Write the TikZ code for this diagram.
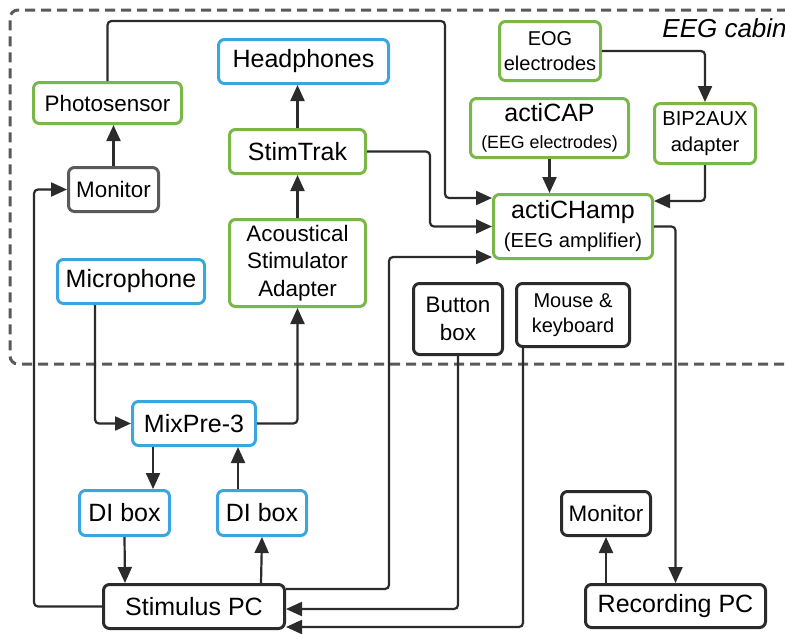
\documentclass[tikz,border=0pt]{standalone}
\usepackage{fontspec}
\setmainfont{Liberation Sans}
\usetikzlibrary{arrows.meta}
\definecolor{devgreen}{HTML}{7AB648}
\definecolor{devblue}{HTML}{3AA6DD}
\definecolor{devblack}{HTML}{2B2B2B}
\definecolor{devgray}{HTML}{5A5A5A}
\newcommand{\fbig}{\fontsize{12.5}{14}\selectfont}
\newcommand{\fmid}{\fontsize{11.2}{13.7}\selectfont}
\newcommand{\fsmall}{\fontsize{10}{12.2}\selectfont}
\tikzset{
	dev/.style={draw, rounded corners=3pt, line width=1.5pt, align=center, inner sep=0pt, font=\fbig},
	greendev/.style={dev, draw=devgreen},
	bluedev/.style={dev, draw=devblue},
	blackdev/.style={dev, draw=devblack},
	link/.style={draw=devblack, line width=1.1pt, rounded corners=2pt, -{Triangle[length=8pt,width=7pt]}},
	cabin/.style={draw=devgray, line width=1.5pt, dash pattern=on 5pt off 3pt, rounded corners=4pt}
}
\begin{document}
\begin{tikzpicture}[x=0.5pt,y=-0.5pt]
	\useasboundingbox (0,0) rectangle (785,633);
	\draw[cabin] (800,364) -| (10,10) -- (800,10);
	\node[anchor=west, inner sep=0pt, font=\itshape\fontsize{13}{15}\selectfont] (cabinlabel) at (662,28) {EEG cabin};
	
	\node[greendev, minimum width=74pt, minimum height=20.5pt, font=\fmid] (photo) at (107.5,103) {Photosensor};
	\node[dev, draw=devgray, minimum width=45pt, minimum height=22pt, font=\fmid] (monleft) at (113.5,189.5) {Monitor};
	\node[bluedev, minimum width=85pt, minimum height=22pt] (head) at (303.5,61.5) {Headphones};
	\node[greendev, minimum width=68pt, minimum height=22pt] (stim) at (297.5,151.5) {StimTrak};
	\node[greendev, minimum width=68pt, minimum height=43.5pt, font=\fmid] (asa) at (297.5,263) {Acoustical\\Stimulator\\Adapter};
	\node[bluedev, minimum width=73.5pt, minimum height=22pt] (mic) at (131,281.5) {Microphone};
	\node[greendev, minimum width=50.5pt, minimum height=29.5pt, font=\fsmall] (eog) at (550,51) {EOG\\electrodes};
	\node[greendev, minimum width=79pt, minimum height=29.5pt, font=\fontsize{8.9}{13.3}\selectfont] (cap) at (549.5,128) {{\fbig actiCAP}\\(EEG electrodes)};
	\node[greendev, minimum width=50.5pt, minimum height=30pt, font=\fontsize{10.1}{12.7}\selectfont] (bip) at (705,133.5) {BIP2AUX\\adapter};
	\node[greendev, minimum width=79.5pt, minimum height=32pt, font=\fontsize{10.1}{14.5}\selectfont] (amp) at (573,226.5) {{\fbig actiCHamp}\\(EEG amplifier)};
	\node[blackdev, minimum width=44.5pt, minimum height=35.5pt, font=\fmid] (button) at (458,319) {Button\\box};
	\node[blackdev, minimum width=56.5pt, minimum height=31.5pt, font=\fsmall] (mouse) at (573,315) {Mouse \&\\keyboard};
	\node[bluedev, minimum width=61.5pt, minimum height=22pt] (mix) at (194,423.5) {MixPre-3};
	\node[bluedev, minimum width=45pt, minimum height=22.5pt] (dileft) at (124.5,513) {DI box};
	\node[bluedev, minimum width=44.5pt, minimum height=22.5pt] (diright) at (262,513) {DI box};
	\node[blackdev, minimum width=44.5pt, minimum height=22pt, font=\fmid] (monright) at (606,513.5) {Monitor};
	\node[blackdev, minimum width=90.5pt, minimum height=22pt] (stimpc) at (194,606.5) {Stimulus PC};
	\node[blackdev, minimum width=90pt, minimum height=21.5pt] (recpc) at (675.5,606) {Recording PC};
	
	\draw[link] (monleft.north) -- (monleft.north |- photo.south);
	\draw[link] (photo.north) |- (445,21) |- ([yshift=14.25pt]amp.west);
	\draw[link] (stim.north) -- (stim.north |- head.south);
	\draw[link] (asa.north) -- (stim.south);
	\draw[link] (stim.east) -- (430,151.5) |- (amp.west);
	\draw[link] ([yshift=8.75pt]stimpc.east) -| (389,257) -- ([yshift=-15.25pt]amp.west);
	\draw[link] (cap.south) -- (cap.south |- amp.north);
	\draw[link] (eog.east) -| (bip.north);
	\draw[link] (bip.south) |- ([yshift=12.75pt]amp.east);
	\draw[link] (amp.east) -| (recpc.north);
	\draw[link] (monright.south |- recpc.north) -- (monright.south);
	\draw[link] (stimpc.west) -| (34,189.5) -- (monleft.west);
	\draw[link] ([xshift=-18pt]mic.south) |- (mix.west);
	\draw[link] (mix.east) -| (asa.south);
	\draw[link] ([xshift=-20.5pt]mix.south) -- ([xshift=14.25pt]dileft.north);
	\draw[link] ([xshift=-12pt]diright.north) -- ([xshift=22pt]mix.south);
	\draw[link] (dileft.south) -- ([xshift=-34.5pt]stimpc.north);
	\draw[link] ([xshift=33.5pt]stimpc.north) -- (diright.south);
	\draw[link] (button.south) |- ([yshift=-1.25pt]stimpc.east);
	\draw[link] ([xshift=-25pt]mouse.south) |- ([yshift=-10.25pt]stimpc.east);
\end{tikzpicture}
\end{document}
